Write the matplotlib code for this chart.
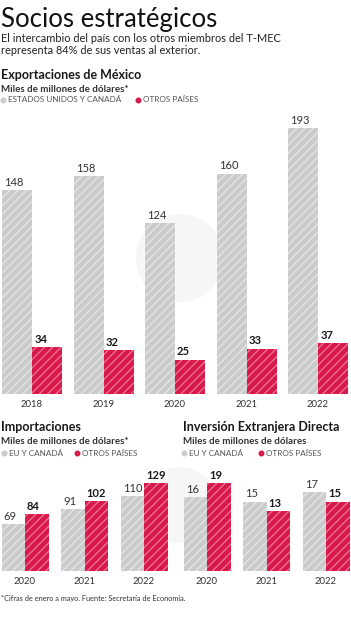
import matplotlib.pyplot as plt
from matplotlib import font_manager
from matplotlib.patches import Circle

years_exp = ["2018", "2019", "2020", "2021", "2022"]
exp_us_ca = [148, 158, 124, 160, 193]
exp_otros = [34, 32, 25, 33, 37]

years_imp = ["2020", "2021", "2022"]
imp_us_ca = [69, 91, 110]
imp_otros = [84, 102, 129]

years_ied = ["2020", "2021", "2022"]
ied_us_ca = [16, 15, 17]
ied_otros = [19, 13, 15]

GRAY = "#cbcbcb"
GRAY_HATCH = "#e4e4e4"
RED = "#d7194b"
RED_HATCH = "#ee6f8f"
TEXT = "#1a1a1a"
SOFT = "#555555"

installed = {f.name for f in font_manager.fontManager.ttflist}
BODY = "Lato" if "Lato" in installed else "DejaVu Sans"
NARROW = "Liberation Sans Narrow" if "Liberation Sans Narrow" in installed else BODY

plt.rcParams["font.family"] = [BODY, "DejaVu Sans"]
plt.rcParams["hatch.linewidth"] = 1.0

W, H = 351, 620
fig = plt.figure(figsize=(W / 100, H / 100), dpi=100)
fig.patch.set_facecolor("white")


def fx(px):
    return px / W


def fy(py):
    return 1 - py / H


def ftext(x, y, s, **kw):
    fig.text(fx(x), fy(y), s, va="center", ha="left", **kw)


def legend(x_gray, label_gray, x_red, label_red, y):
    for xd, col in ((x_gray, GRAY), (x_red, RED)):
        fig.add_artist(plt.Line2D([fx(xd)], [fy(y)], marker="o", markersize=3.3,
                                  color=col, transform=fig.transFigure))
    ftext(x_gray + 5, y, label_gray, fontsize=5.9, color=SOFT)
    ftext(x_red + 5, y, label_red, fontsize=5.9, color=SOFT)


def bars(ax, years, gray_vals, red_vals, width, ymax, xlim):
    pos = list(range(len(years)))
    ax.bar([p - width for p in pos], gray_vals, width=width, align="edge",
           color=GRAY, edgecolor=GRAY_HATCH, hatch="////", linewidth=0, zorder=2)
    ax.bar(pos, red_vals, width=width, align="edge",
           color=RED, edgecolor=RED_HATCH, hatch="////", linewidth=0, zorder=2)
    for p, g, r in zip(pos, gray_vals, red_vals):
        ax.annotate(str(g), (p - width, g), xytext=(1.5, 1.5), textcoords="offset points",
                    ha="left", va="bottom", fontsize=8, color="#333333")
        ax.annotate(str(r), (p, r), xytext=(1.5, 1.5), textcoords="offset points",
                    ha="left", va="bottom", fontsize=8, fontweight="bold", color=TEXT)
    ax.set_xticks(pos, years)
    ax.tick_params(axis="x", length=0, pad=4, labelsize=6.8, labelcolor="#333333")
    ax.set_yticks([])
    ax.set_xlim(*xlim)
    ax.set_ylim(0, ymax)
    for s in ax.spines.values():
        s.set_visible(False)
    ax.patch.set_alpha(0)


# faint watermark (pixel-based circles)
for cx, cy, r in ((180, 258, 44), (180, 505, 38)):
    fig.add_artist(Circle((cx / 100, (H - cy) / 100), r / 100,
                          transform=fig.dpi_scale_trans,
                          facecolor="#f6f6f6", edgecolor="none", zorder=0))

# header
fig.text(fx(1), fy(20), "Socios estratégicos", family=[NARROW, "DejaVu Sans"],
         fontsize=18.5, color="#111111", va="center", ha="left")
ftext(1, 38, "El intercambio del país con los otros miembros del T-MEC",
      fontsize=7.9, color="#222222")
ftext(1, 51, "representa 84% de sus ventas al exterior.", fontsize=7.9, color="#222222")

ftext(1, 75, "Exportaciones de México", fontsize=9, fontweight="bold", color=TEXT)
ftext(1, 89, "Miles de millones de dólares*", fontsize=7, fontweight="bold", color="#333333")
legend(3, "ESTADOS UNIDOS Y CANADÁ", 138, "OTROS PAÍSES", 100)

ax_exp = fig.add_axes([0, fy(394), 1, (394 - 110) / H])
bars(ax_exp, years_exp, exp_us_ca, exp_otros, 30 / 71.5, (394 - 110) / 1.378,
     (-32 / 71.5, (W - 32) / 71.5))

ftext(1, 427, "Importaciones", fontsize=9, fontweight="bold", color=TEXT)
ftext(1, 441, "Miles de millones de dólares*", fontsize=7, fontweight="bold", color="#333333")
legend(4, "EU Y CANADÁ", 77, "OTROS PAÍSES", 453)

ax_imp = fig.add_axes([0, fy(571), 172 / W, 101 / H])
bars(ax_imp, years_imp, imp_us_ca, imp_otros, 23.5 / 59.5, 101 / 0.683,
     (-25 / 59.5, 147 / 59.5))

ftext(183, 427, "Inversión Extranjera Directa", fontsize=9, fontweight="bold", color=TEXT)
ftext(183, 441, "Miles de millones de dólares", fontsize=7, fontweight="bold", color="#333333")
legend(184, "EU Y CANADÁ", 261, "OTROS PAÍSES", 453)

ax_ied = fig.add_axes([176 / W, fy(571), 175 / W, 101 / H])
bars(ax_ied, years_ied, ied_us_ca, ied_otros, 23.5 / 59.5, 101 / 4.63,
     (-31 / 59.5, 144 / 59.5))

ftext(1, 599, "*Cifras de enero a mayo. Fuente: Secretaría de Economía.",
      fontsize=5.3, color="#333333")

fig.savefig("out.png", dpi=100, facecolor="white")
